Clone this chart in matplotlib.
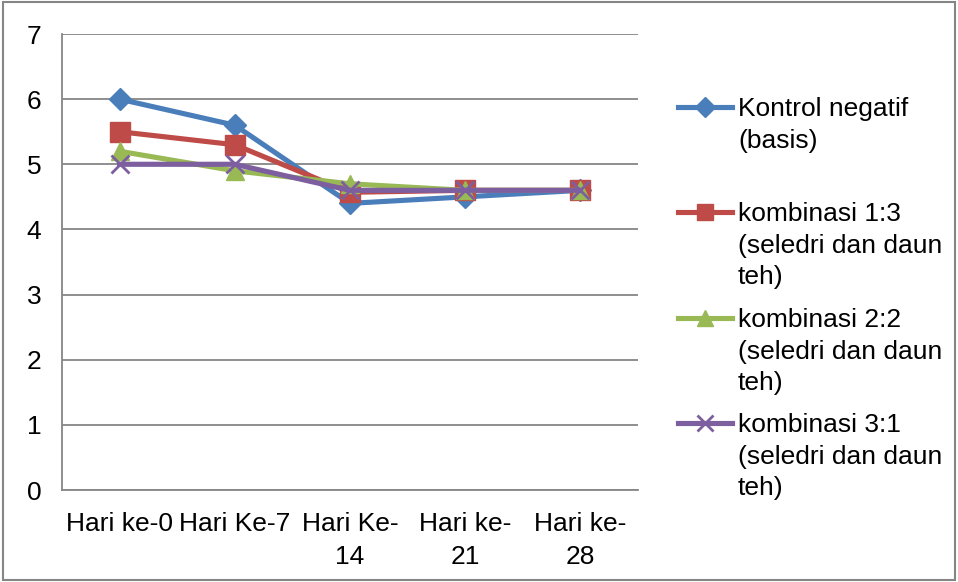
import matplotlib
matplotlib.use("Agg")
import matplotlib.pyplot as plt
from matplotlib.patches import Rectangle
from matplotlib.lines import Line2D

plt.rcParams['font.family'] = ['Liberation Sans', 'DejaVu Sans']

categories = ["Hari ke-0", "Hari Ke-7", "Hari Ke-\n14", "Hari ke-\n21", "Hari ke-\n28"]
kontrol = [6.0, 5.6, 4.4, 4.5, 4.6]
komb_13 = [5.5, 5.3, 4.57, 4.6, 4.6]
komb_22 = [5.2, 4.9, 4.7, 4.6, 4.6]
komb_31 = [5.0, 5.0, 4.6, 4.6, 4.6]

labels = ["Kontrol negatif\n(basis)",
          "kombinasi 1:3\n(seledri dan daun\nteh)",
          "kombinasi 2:2\n(seledri dan daun\nteh)",
          "kombinasi 3:1\n(seledri dan daun\nteh)"]
colors = ["#4A7EBB", "#BE4B48", "#98B954", "#7D5FA0"]
markers = ["D", "s", "^", "x"]
msizes = [11.5, 14, 13, 13]

W, H = 958, 582
FS = 19
fig = plt.figure(figsize=(W/100, H/100), dpi=100)
ax = fig.add_axes([62/W, 1-490/H, (638-62)/W, (490-34)/H])

x = list(range(len(categories)))
for vals, c, m, ms, lab in zip([kontrol, komb_13, komb_22, komb_31], colors, markers, msizes, labels):
    ax.plot(x, vals, color=c, lw=3.7, marker=m, ms=ms, mew=2 if m == "x" else 1,
            mec=c, mfc=c, label=lab, zorder=3)

ax.set_xlim(-0.5, 4.5)
ax.set_ylim(0, 7)
ax.set_yticks(range(0, 8))
ax.yaxis.grid(True, color="#868686", lw=1.3)
ax.set_axisbelow(True)
for s in ["top", "right"]:
    ax.spines[s].set_visible(False)
for s in ["left", "bottom"]:
    ax.spines[s].set_color("#868686")
    ax.spines[s].set_linewidth(1.3)
ax.set_xticks(x)
ax.set_xticklabels(categories, fontsize=FS, linespacing=1.45)
ax.tick_params(axis="both", length=0, labelsize=FS)
ax.tick_params(axis="x", pad=16)
ax.tick_params(axis="y", pad=15)

# legend (drawn manually so handle aligns with first text line)
leg_y = [107, 212, 318, 423]
for c, m, ms, lab, yp in zip(colors, markers, msizes, labels, leg_y):
    yf = 1 - yp / H
    fig.add_artist(Line2D([678/W, 732/W], [yf, yf], transform=fig.transFigure,
                          color=c, lw=3.7))
    fig.add_artist(Line2D([705/W], [yf], transform=fig.transFigure, color=c,
                          marker=m, ms=ms*0.85, mfc=c, mec=c, mew=2 if m == "x" else 1))
    fig.text(738/W, 1 - (yp - 10)/H, lab, fontsize=FS, va="top", ha="left",
             linespacing=1.4)

fig.patches.append(Rectangle((0.003, 0.003), 0.994, 0.994, transform=fig.transFigure,
                             fill=False, edgecolor="#868686", lw=1.5))
fig.savefig("out.png", dpi=100)
